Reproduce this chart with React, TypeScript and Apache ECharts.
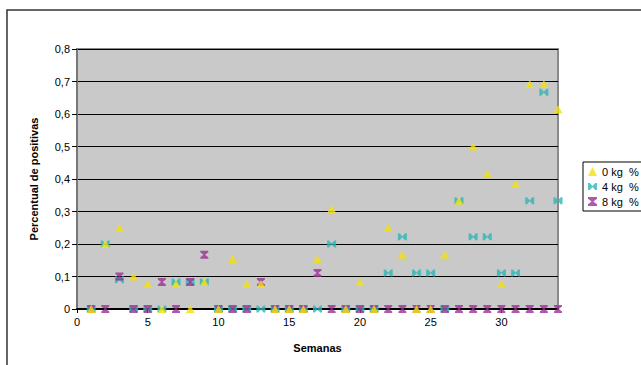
import React, { useEffect, useRef } from "react";
import * as echarts from "echarts";

const weeks = Array.from({ length: 34 }, (_, i) => i + 1);
const kg0 = [0, 0.2, 0.25, 0.1, 0.077, 0, 0.077, 0, 0.083, 0, 0.154, 0.077, 0.077, 0, 0, 0, 0.154, 0.308, 0, 0.083, 0, 0.25, 0.167, 0, 0, 0.167, 0.333, 0.5, 0.417, 0.077, 0.385, 0.692, 0.692, 0.615];
const kg4 = [0, 0.2, 0.09, 0, 0, 0, 0.083, 0.083, 0.083, 0, 0, 0, 0, 0, 0, 0, 0, 0.2, 0, 0, 0, 0.111, 0.222, 0.111, 0.111, 0, 0.333, 0.222, 0.222, 0.111, 0.111, 0.333, 0.667, 0.333];
const kg8 = [0, 0, 0.1, 0, 0, 0.083, 0, 0.083, 0.167, 0, 0, 0, 0.083, 0, 0, 0, 0.111, 0, 0, 0, 0, 0, 0, 0, 0, 0, 0, 0, 0, 0, 0, 0, 0, 0];
const seriesNames = ["0 kg  %", "4 kg  %", "8 kg  %"];

const FONT = "Liberation Sans, Arial, sans-serif";
const bowtie = "path://M0,0 L2,0 L5,3.5 L8,0 L10,0 L10,8 L8,8 L5,4.5 L2,8 L0,8 Z";
const hourglass = "path://M0,0 L10,0 L10,2 L6,5 L10,8 L10,10 L0,10 L0,8 L4,5 L0,2 Z";

export default function App() {
  const ref = useRef<HTMLDivElement>(null);
  useEffect(() => {
    if (!ref.current) return;
    const chart = echarts.init(ref.current, undefined, { renderer: "svg" });
    const mk = (vals: number[]) => weeks.map((w, i) => [w, vals[i]]);
    chart.setOption({
      animation: false,
      backgroundColor: "#ffffff",
      textStyle: { fontFamily: FONT },
      graphic: [
        {
          type: "rect",
          shape: { x: 7, y: 10, width: 700, height: 400 },
          style: { fill: "none", stroke: "#333333", lineWidth: 1.5 },
          z: 0,
        },
      ],
      grid: {
        left: 77,
        top: 49,
        width: 481,
        height: 260,
        show: true,
        backgroundColor: "#c9c9c9",
        borderColor: "#8a8a8a",
        borderWidth: 2,
      },
      legend: {
        orient: "vertical",
        left: 583,
        top: 162,
        data: seriesNames,
        borderColor: "#000000",
        borderWidth: 1,
        padding: [4, 10, 4, 5],
        itemGap: 4,
        itemWidth: 9,
        itemHeight: 9,
        textStyle: { fontSize: 11, fontFamily: FONT, color: "#000" },
      },
      xAxis: {
        type: "value",
        min: 0,
        max: 34,
        interval: 5,
        name: "Semanas",
        nameLocation: "middle",
        nameGap: 33,
        nameTextStyle: { fontSize: 11, fontWeight: "bold", color: "#000", fontFamily: FONT },
        axisLine: { show: true, onZero: false, lineStyle: { color: "#000", width: 2 } },
        axisTick: { show: true, length: 4, lineStyle: { color: "#000" } },
        axisLabel: { fontSize: 11, color: "#000", margin: 7, fontFamily: FONT, showMaxLabel: false },
        splitLine: { show: false },
      },
      yAxis: {
        type: "value",
        min: 0,
        max: 0.8,
        interval: 0.1,
        name: "Percentual de positivas",
        nameLocation: "middle",
        nameGap: 38,
        nameTextStyle: { fontSize: 11, fontWeight: "bold", color: "#000", fontFamily: FONT },
        axisLine: { show: true, lineStyle: { color: "#777", width: 2 } },
        axisTick: { show: true, length: 5, lineStyle: { color: "#000" } },
        axisLabel: {
          fontSize: 11,
          color: "#000",
          margin: 7,
          fontFamily: FONT,
          formatter: (v: number) => (v === 0 ? "0" : v.toFixed(1).replace(".", ",")),
        },
        splitLine: { show: true, lineStyle: { color: "#000", width: 1 } },
      },
      series: [
        {
          name: seriesNames[0],
          type: "scatter",
          data: mk(kg0),
          symbol: "triangle",
          symbolSize: [9, 8],
          itemStyle: { color: "#f3e10c" },
          z: 5,
        },
        {
          name: seriesNames[1],
          type: "scatter",
          data: mk(kg4),
          symbol: bowtie,
          symbolSize: [9, 7],
          itemStyle: { color: "#2cb7b7" },
          z: 3,
        },
        {
          name: seriesNames[2],
          type: "scatter",
          data: mk(kg8),
          symbol: hourglass,
          symbolSize: [8, 8],
          itemStyle: { color: "#9a2f93" },
          z: 4,
        },
      ],
    });
    return () => chart.dispose();
  }, []);
  return (
    <div
      ref={ref}
      style={{ position: "fixed", left: 0, top: 0, width: 641, height: 365 }}
    />
  );
}
